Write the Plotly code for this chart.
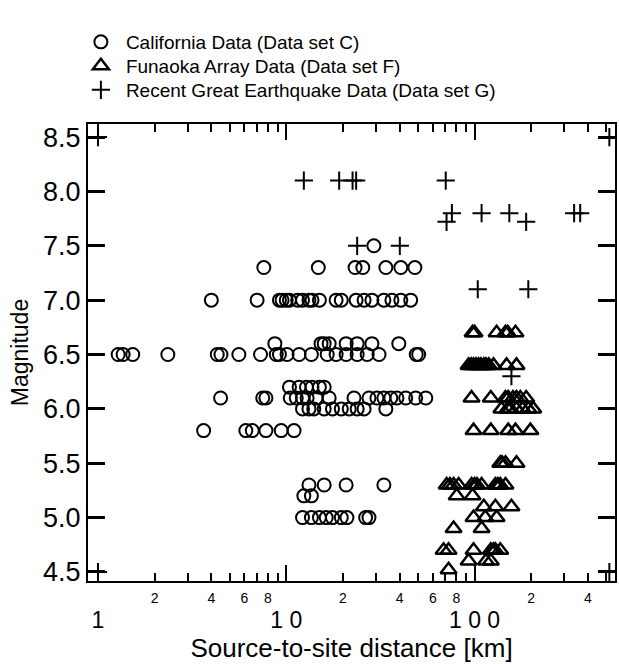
import plotly.graph_objects as go

# ---------------- data ----------------
cal_dist = [29.2,
            7.6, 14.8, 23.2, 25.5, 33.8, 40.6, 48.2,
            4.0, 7.0, 9.2, 9.5, 10.0, 10.4, 11.5, 12.2, 13.2, 13.7, 15.0, 18.4, 19.6, 23.5, 25.9, 28.5, 33.0, 36.4, 40.6, 45.8,
            8.7, 15.3, 15.9, 16.9, 20.8, 23.8, 28.5, 39.6,
            1.28, 1.36, 1.53, 2.35, 4.3, 4.5, 5.6, 7.3, 8.85, 9.2, 10.1, 11.7, 13.6, 16.5, 18.4, 20.8, 23.8, 26.9, 31.1, 49.0, 50.5,
            10.4, 11.7, 12.8, 13.7, 15.0, 15.9,
            4.48, 7.5, 7.8, 10.5, 11.3, 12.2, 12.9, 14.4, 16.9, 22.9, 27.5, 30.3, 33.0, 35.9, 38.7, 43.1, 48.7, 55.1,
            12.2, 13.2, 14.0, 15.9, 17.6, 19.6, 21.6, 23.8, 25.9, 33.8,
            3.64, 6.1, 6.6, 7.8, 9.4, 11.0,
            13.2, 15.9, 20.8, 33.0,
            12.4, 13.6,
            12.2, 13.6, 15.0, 16.3, 17.6, 19.6, 21.0, 26.4, 27.5]
cal_mag = ([7.5] + [7.3] * 7 + [7.0] * 20 + [6.6] * 8 + [6.5] * 21 + [6.2] * 6 +
           [6.1] * 18 + [6.0] * 10 + [5.8] * 6 + [5.3] * 4 + [5.2] * 2 + [5.0] * 9)

fun_dist = [97.6, 100, 131, 146, 150, 165,
            93, 96, 98.8, 102, 105, 108, 112, 115, 119, 126, 148, 167,
            96.4, 122, 146, 151, 160, 167, 175, 188,
            139, 150, 155, 167, 180, 193, 205,
            98.8, 122, 151, 165, 198,
            137, 140, 146, 167,
            71.1, 74, 77.4, 82.3, 96.4, 100, 103, 109, 129, 133, 137, 146,
            80.4, 97.6,
            112, 129, 157,
            98.8, 114, 131,
            77.4, 109,
            68.5, 72.8, 98.8, 122, 126, 129, 137,
            93, 115, 122,
            72.8]
fun_mag = ([6.7] * 6 + [6.4] * 12 + [6.1] * 8 + [6.0] * 7 + [5.8] * 5 + [5.5] * 4 +
           [5.3] * 12 + [5.2] * 2 + [5.1] * 3 + [5.0] * 3 + [4.9] * 2 + [4.7] * 7 +
           [4.6] * 3 + [4.52])

grt_dist = [1, 1, 520, 520, 12.4, 19.1, 22.5, 23.5, 70.3, 75.8, 71, 23.8, 40.1,
            109, 153, 188, 338, 364, 104, 193, 157]
grt_mag = [8.5, 4.5, 8.5, 4.5, 8.1, 8.1, 8.1, 8.1, 8.1, 7.8, 7.72, 7.5, 7.5,
           7.8, 7.8, 7.72, 7.8, 7.8, 7.1, 7.1, 6.3]

major_x = [1, 10, 100]
major_x_text = ["1", "1 0", "1 0 0"]
minor_x = [2, 3, 4, 5, 6, 7, 8, 9, 20, 30, 40, 50, 60, 70, 80, 90, 200, 300, 400, 500]
minor_lab = [2, 4, 6, 8, 20, 40, 60, 80, 200, 400]
minor_lab_text = ["2", "4", "6", "8", "2", "4", "6", "8", "2", "4"]
y_ticks = [4.5, 5.0, 5.5, 6.0, 6.5, 7.0, 7.5, 8.0, 8.5]

FONT = "Liberation Sans, Arial, Helvetica, sans-serif"
XR = [-0.053, 2.746]

fig = go.Figure()
fig.add_trace(go.Scatter(
    x=cal_dist, y=cal_mag, mode="markers", name="California Data (Data set C)",
    legend="legend",
    marker=dict(symbol="circle-open", size=13, color="black", line=dict(width=2))))
fig.add_trace(go.Scatter(
    x=fun_dist, y=fun_mag, mode="markers", name="Funaoka Array Data (Data set F)",
    legend="legend2",
    marker=dict(symbol="triangle-up-open", size=14, color="black", line=dict(width=2.5))))
fig.add_trace(go.Scatter(
    x=grt_dist, y=grt_mag, mode="markers", name="Recent Great Earthquake Data (Data set G)",
    legend="legend3",
    marker=dict(symbol="cross-thin-open", size=13, color="black", line=dict(width=2))))
# invisible trace so that the secondary label axis is drawn
fig.add_trace(go.Scatter(x=[minor_lab[0]], y=[None], xaxis="x2", yaxis="y",
                         showlegend=False, hoverinfo="skip"))

leg_common = dict(x=-0.023, xanchor="left", yanchor="top",
                  font=dict(size=19, family=FONT), bgcolor="rgba(0,0,0,0)",
                  itemwidth=40)

fig.update_layout(
    width=619, height=664,
    margin=dict(l=88, r=2, t=124, b=83),
    paper_bgcolor="white", plot_bgcolor="white",
    font=dict(family=FONT, color="black"),
    showlegend=True,
    legend=dict(y=1.221, **leg_common),
    legend2=dict(y=1.1685, **leg_common),
    legend3=dict(y=1.116, **leg_common),
    xaxis=dict(type="log", range=XR, showgrid=False, zeroline=False,
               showline=True, linecolor="black", linewidth=2, mirror="allticks",
               ticks="inside", ticklen=16, tickwidth=2, tickcolor="black",
               tickmode="array", tickvals=major_x, ticktext=major_x_text,
               tickfont=dict(size=23), ticklabelstandoff=17,
               minor=dict(tickmode="array", tickvals=minor_x, ticks="inside",
                          ticklen=8, tickwidth=2, tickcolor="black"),
               title=dict(text="Source-to-site distance [km]", font=dict(size=26), standoff=4)),
    xaxis2=dict(type="log", range=XR, overlaying="x", anchor="y", side="bottom",
                showgrid=False, zeroline=False, showline=False, ticks="",
                tickmode="array", tickvals=minor_lab, ticktext=minor_lab_text,
                tickfont=dict(size=14), ticklabelstandoff=7),
    yaxis=dict(range=[4.417, 8.62], showgrid=False, zeroline=False,
               showline=True, linecolor="black", linewidth=2, mirror="ticks",
               ticks="inside", ticklen=17, tickwidth=3, tickcolor="black",
               tickmode="array", tickvals=y_ticks, tickformat=".1f",
               tickfont=dict(size=27),
               title=dict(text="Magnitude", font=dict(size=23), standoff=8)),
)

fig.write_html("out.html")
